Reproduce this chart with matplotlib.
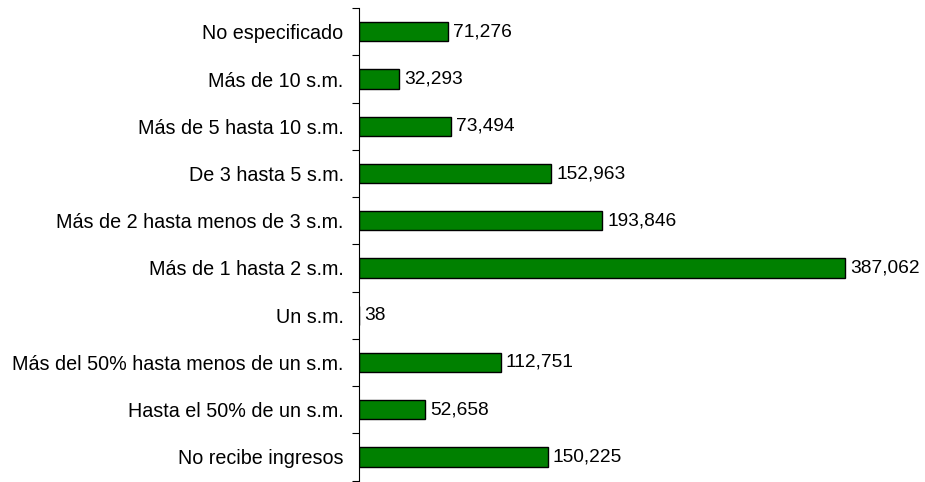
import matplotlib.pyplot as plt
import numpy as np

plt.rcParams['font.family'] = ['Liberation Sans', 'DejaVu Sans']

# Categories from bottom to top
categories = [
    "No recibe ingresos",
    "Hasta el 50% de un s.m.",
    "Más del 50% hasta menos de un s.m.",
    "Un s.m.",
    "Más de 1 hasta 2 s.m.",
    "Más de 2 hasta menos de 3 s.m.",
    "De 3 hasta 5 s.m.",
    "Más de 5 hasta 10 s.m.",
    "Más de 10 s.m.",
    "No especificado",
]
values = [150225, 52658, 112751, 38, 387062, 193846, 152963, 73494, 32293, 71276]

fig = plt.figure(figsize=(9.25, 4.82), dpi=100)
ax = fig.add_axes([0.388, 0.003, 0.611, 0.98])

y = np.arange(len(categories))
ax.barh(y, values, height=0.41, color="#008000", edgecolor="black", linewidth=1)

for yi, v in zip(y, values):
    ax.text(v + 4000, yi, f"{v:,}", va="center", ha="left", fontsize=13.8)

ax.set_xlim(0, 450000)
ax.set_ylim(-0.5, len(categories) - 0.5)

ax.set_yticks(y)
ax.set_yticklabels(categories, fontsize=14.2)
ax.set_yticks(np.arange(-0.5, len(categories)), minor=True)
ax.tick_params(axis="y", which="major", length=0, pad=11)
ax.tick_params(axis="y", which="minor", length=5, width=0.8, direction="out")
ax.set_xticks([])

for s in ["top", "right", "bottom"]:
    ax.spines[s].set_visible(False)
ax.spines["left"].set_linewidth(0.8)

fig.savefig("out.png", dpi=100)
